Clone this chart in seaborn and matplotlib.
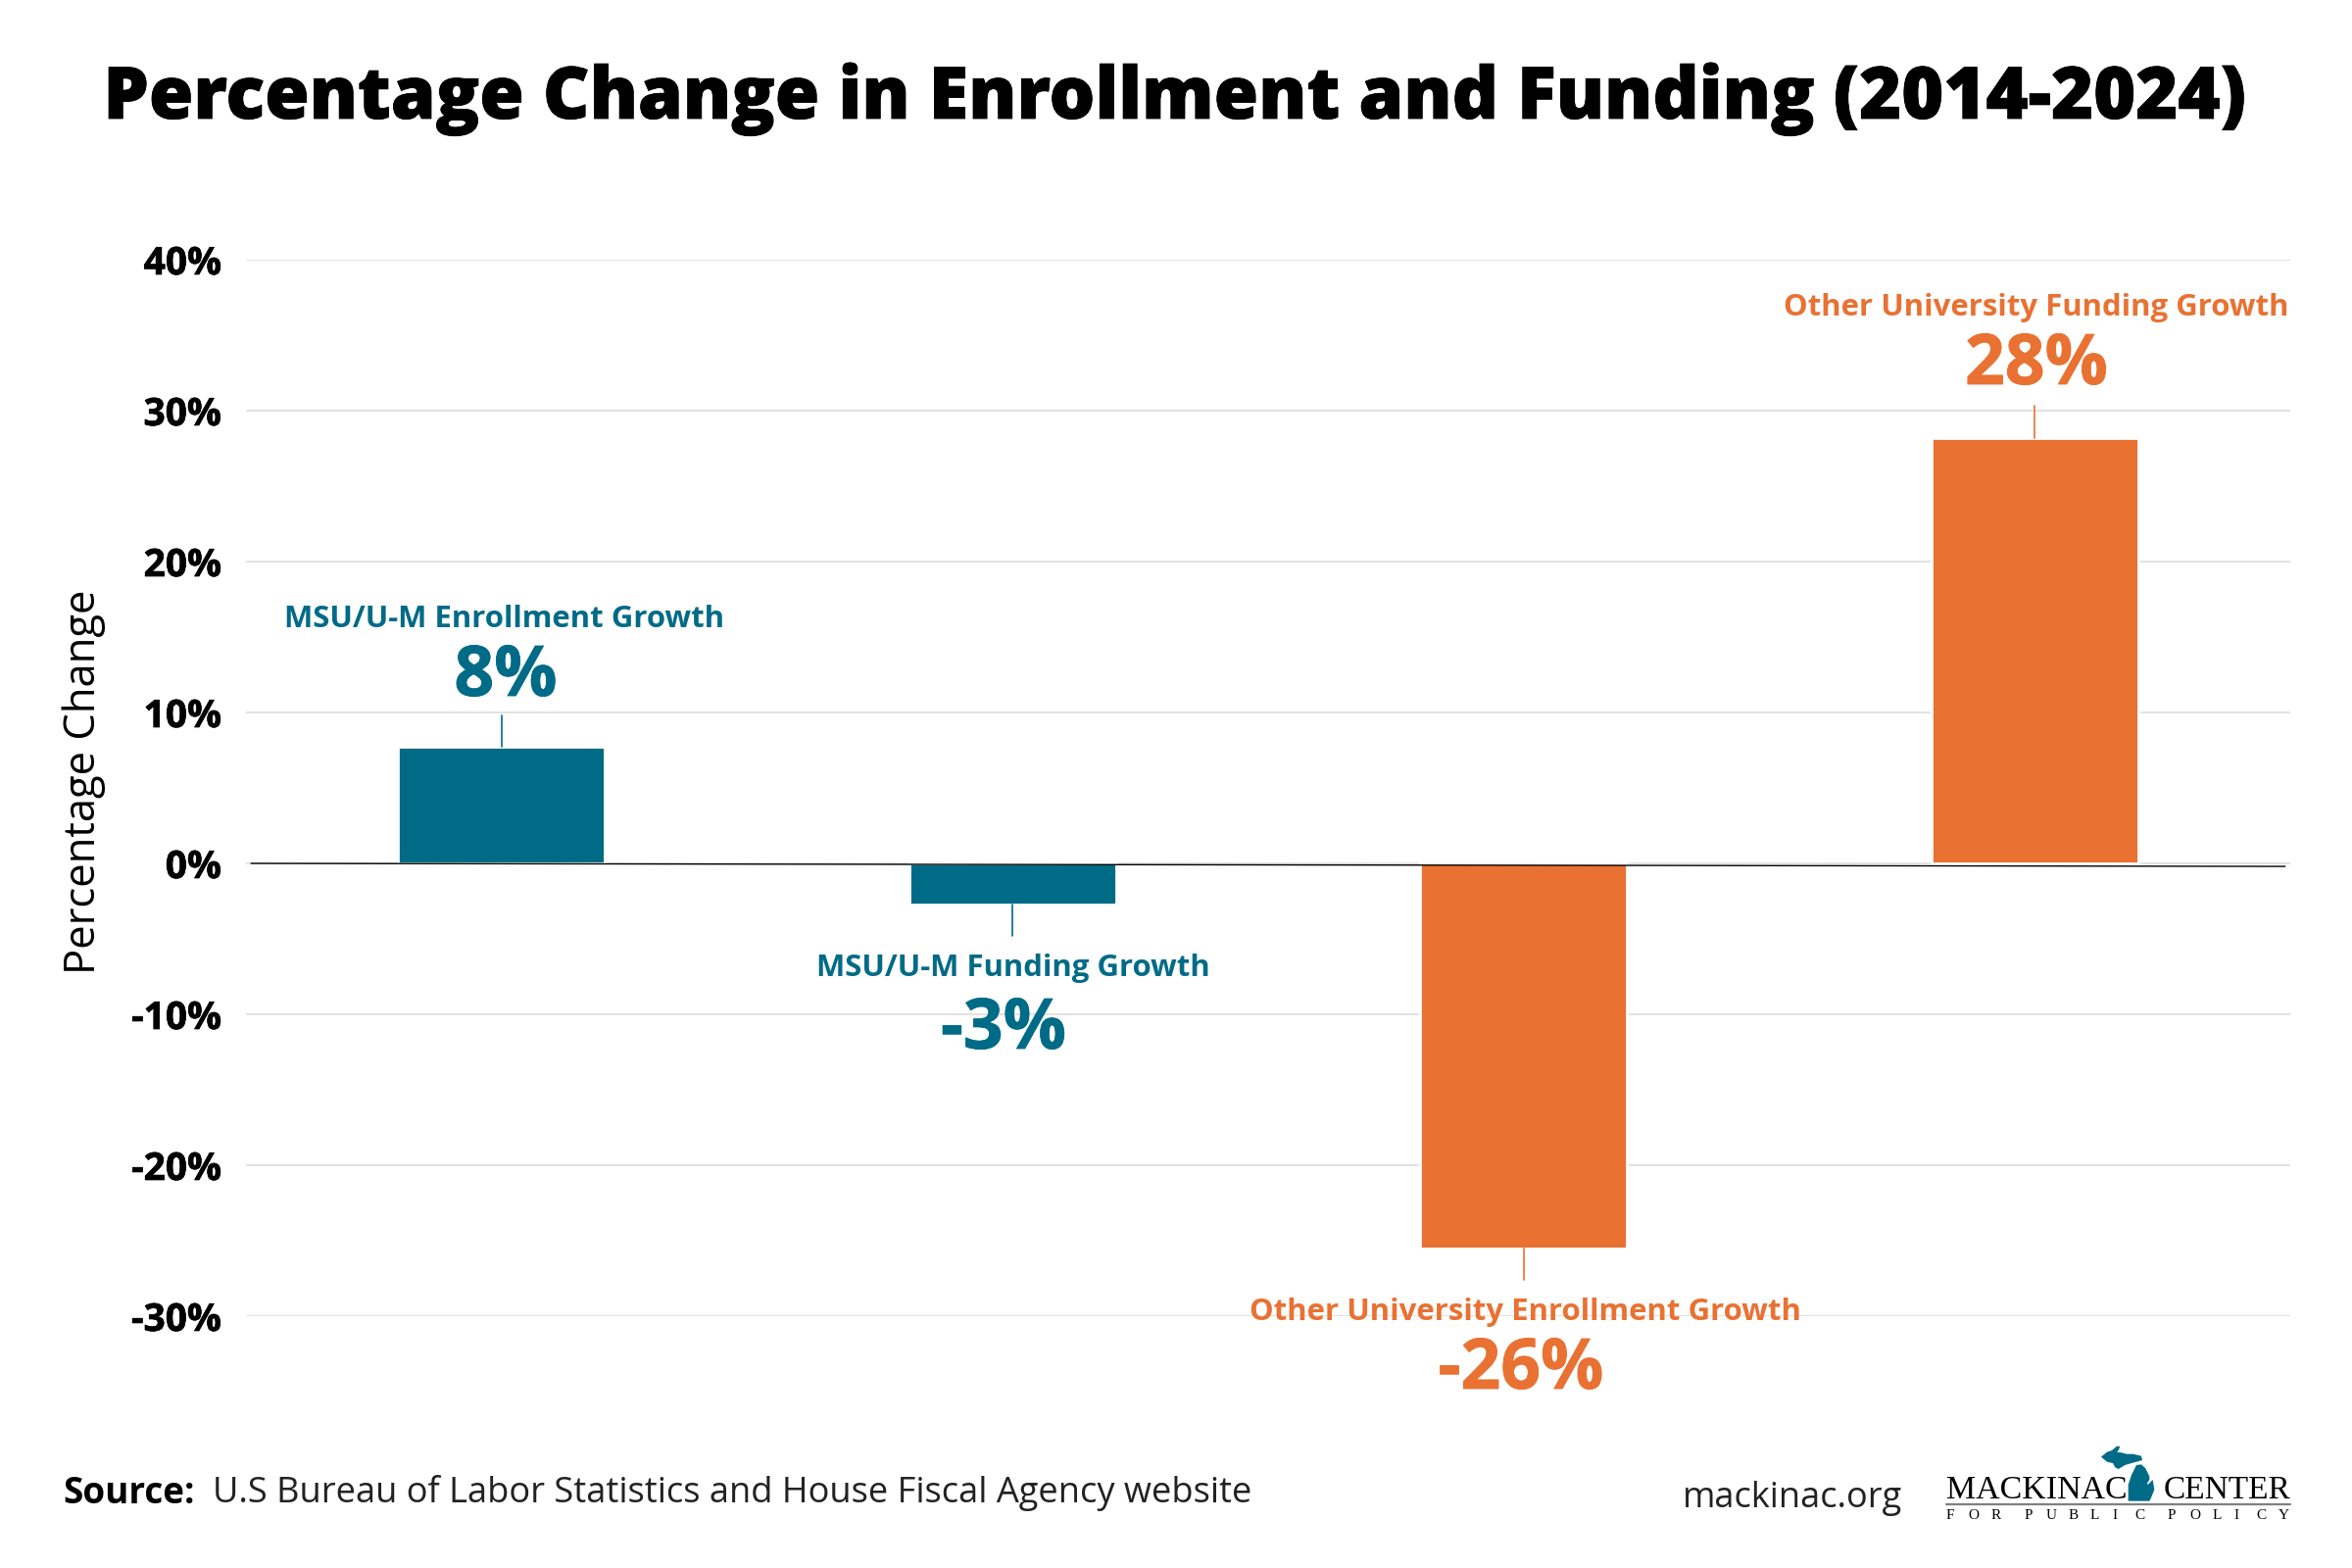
import matplotlib
matplotlib.use("Agg")
import matplotlib.pyplot as plt
import matplotlib.patheffects as pe
import seaborn as sns
import pandas as pd
from matplotlib.patches import Polygon

# values
categories = ["MSU/U-M Enrollment Growth", "MSU/U-M Funding Growth",
              "Other University Enrollment Growth", "Other University Funding Growth"]
values = [7.7, -2.7, -25.5, 28.2]
value_labels = ["8%", "-3%", "-26%", "28%"]
yticks = [-30, -20, -10, 0, 10, 20, 30, 40]

TEAL = "#006b87"
ORANGE = "#e97132"
bar_colors = [TEAL, TEAL, ORANGE, ORANGE]

sns.set_theme(style="white")
plt.rcParams["font.family"] = ["Open Sans", "DejaVu Sans"]

df = pd.DataFrame({"category": categories, "value": values})


def fx(px):
    return px / 2400


def fy(px):
    return 1 - px / 1600


def heavy(color, w=0.3):
    # Open Sans bold comes out a bit lighter than the original lettering
    return [pe.withStroke(linewidth=w, foreground=color)]


fig = plt.figure(figsize=(12, 8), dpi=200, facecolor="white")
ax = fig.add_axes([fx(251), fy(1343), fx(2337 - 251), (1343 - 265) / 1600])

sns.barplot(data=df, x="category", y="value", hue="category", palette=bar_colors,
            width=0.405, legend=False, saturation=1, ax=ax, zorder=3)

ax.set_xlim(-0.5, 3.5)
ax.set_ylim(-30, 40)
ax.set_yticks(yticks)
ax.set_yticklabels([f"{t}%" for t in yticks], fontsize=14, fontweight="bold", color="black",
                   path_effects=heavy("black", 0.25))
ax.set_xticks([])
ax.set_xlabel("")
ax.set_ylabel("")
ax.tick_params(axis="y", length=0, pad=9)
ax.grid(axis="y", color="#dddddd", linewidth=0.6, zorder=0)
ax.set_axisbelow(True)
sns.despine(ax=ax, left=True, bottom=True)

# zero line, runs very slightly downhill in the original
ax.plot([-0.49, 3.49], [0, -0.2], color="#000000", linewidth=0.5, zorder=4)

# leader lines from bars to their labels
for i, v in enumerate(values):
    end = v + 2.1 if v > 0 else v - 2.1
    ax.plot([i, i], [v, end], color=bar_colors[i], linewidth=0.6, zorder=3)

name_pos = [(515, 632), (1034, 988), (1556, 1339), (2078, 314)]
value_pos = [(516, 691), (1024, 1051), (1552, 1398), (2078, 373)]
for i in range(4):
    fig.text(fx(name_pos[i][0]), fy(name_pos[i][1]), categories[i], color=bar_colors[i],
             fontsize=11.2, fontweight="bold", ha="center", va="center")
    fig.text(fx(value_pos[i][0]), fy(value_pos[i][1]), value_labels[i], color=bar_colors[i],
             fontsize=25.7, fontweight="bold", ha="center", va="center", path_effects=heavy(bar_colors[i]))

fig.text(fx(1199), fy(101), "Percentage Change in Enrollment and Funding (2014-2024)",
         fontsize=26.5, fontweight="black", color="black", ha="center", va="center",
         path_effects=heavy("black", 0.3))
fig.text(fx(86), fy(798), "Percentage Change", fontsize=15.7, rotation=90, color="black",
         ha="center", va="center")

# footer
fig.text(fx(64), fy(1524), "Source:", fontsize=13.3, fontweight="bold", color="black", va="center")
fig.text(fx(217), fy(1524), "U.S Bureau of Labor Statistics and House Fiscal Agency website",
         fontsize=13.05, color="#222222", va="center")
fig.text(fx(1717), fy(1529), "mackinac.org", fontsize=13, color="#222222", va="center")

# logo
serif = ["Liberation Serif", "DejaVu Serif"]
fig.text(fx(1986), fy(1529), "MACKINAC", fontsize=12.2, family=serif, color="black", va="baseline")
fig.text(fx(2337), fy(1529), "CENTER", fontsize=12, family=serif, color="black", va="baseline", ha="right")
fig.add_artist(plt.Line2D([fx(1986), fx(2337)], [fy(1535), fy(1535)], color="#808080", linewidth=0.8))

step = 22.6
pen = 1986
for ch in "FOR PUBLIC POLICY":
    if ch == " ":
        pen += step * 0.5
        continue
    fig.text(fx(pen), fy(1550), ch, fontsize=5.5, family=serif, color="black", va="baseline")
    pen += step

upper = [(42, 65), (60, 50), (75, 45), (90, 32), (100, 33), (95, 45), (90, 50), (105, 52), (120, 56),
         (140, 56), (165, 62), (168, 75), (150, 80), (135, 84), (115, 90), (95, 102), (85, 97),
         (78, 84), (60, 80)]
lower = [(125, 200), (125, 150), (135, 120), (150, 90), (165, 88), (178, 100), (190, 125), (190, 135),
         (183, 145), (185, 150), (200, 135), (205, 165), (195, 190), (190, 200)]
for shape in (upper, lower):
    pts = [(fx(2130 + x / 3), fy(1465 + y / 3)) for x, y in shape]
    fig.add_artist(Polygon(pts, closed=True, color=TEAL, lw=0, transform=fig.transFigure))

fig.savefig("out.png", dpi=200, facecolor="white")
